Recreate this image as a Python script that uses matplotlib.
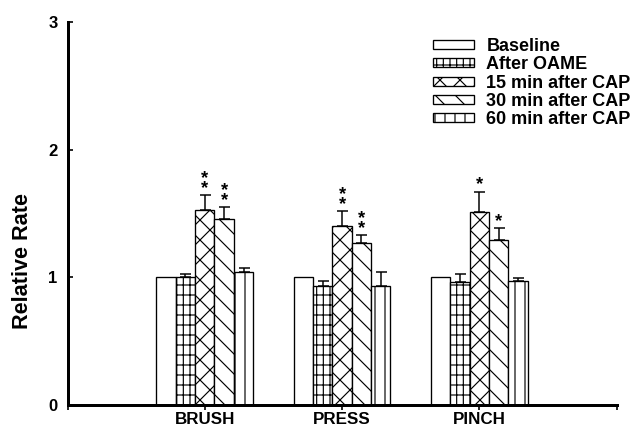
import numpy as np
import matplotlib
matplotlib.use("Agg")
import matplotlib.pyplot as plt

plt.rcParams['font.family'] = ['Liberation Sans', 'DejaVu Sans']
plt.rcParams['font.weight'] = 'bold'
plt.rcParams['hatch.linewidth'] = 0.7

categories = ['BRUSH', 'PRESS', 'PINCH']
series = ['Baseline', 'After OAME', '15 min after CAP', '30 min after CAP', '60 min after CAP']
values = {
    'Baseline':         [1.00, 1.00, 1.00],
    'After OAME':       [1.00, 0.93, 0.96],
    '15 min after CAP': [1.525, 1.40, 1.51],
    '30 min after CAP': [1.46, 1.27, 1.295],
    '60 min after CAP': [1.04, 0.935, 0.975],
}
errors = {
    'Baseline':         [0.0, 0.0, 0.0],
    'After OAME':       [0.025, 0.045, 0.07],
    '15 min after CAP': [0.12, 0.12, 0.16],
    '30 min after CAP': [0.09, 0.06, 0.09],
    '60 min after CAP': [0.03, 0.11, 0.02],
}
stars = {
    '15 min after CAP': ['**', '**', '*'],
    '30 min after CAP': ['**', '**', '*'],
}
hatches = ['', '|||--', 'xx', '\\\\', '||']

fig = plt.figure(figsize=(634/120, 427/120), dpi=120)
ax = fig.add_axes([67.5/634, 22/427, (616.7-67.5)/634, (405-22)/427])

x = np.arange(1, len(categories) + 1)
w = 0.141
for i, s in enumerate(series):
    pos = x + (i - 2) * w
    ax.bar(pos, values[s], width=w, color='white', edgecolor='black',
           linewidth=0.8, hatch=hatches[i], label=s, zorder=2)
    if any(e > 0 for e in errors[s]):
        ax.errorbar(pos, values[s], yerr=[np.zeros(3), errors[s]], fmt='none',
                    ecolor='black', elinewidth=0.9, capsize=3.3, capthick=0.9, zorder=3)
    if s in stars:
        for p, v, e, st in zip(pos, values[s], errors[s], stars[s]):
            top = v + e
            ax.annotate('\n'.join(st), xy=(p, top), xytext=(0, -1.0),
                        textcoords='offset points', ha='center', va='bottom',
                        fontsize=11, fontweight='bold', linespacing=0.45)

ax.set_xlim(0, 4)
ax.set_ylim(0, 3)
ax.set_yticks([0, 1, 2, 3])
ax.set_xticks([0, 1, 2, 3, 4])
ax.set_xticklabels([''] + categories + [''])
ax.tick_params(axis='y', direction='in', length=3, width=1, labelsize=10, pad=6)
ax.tick_params(axis='x', direction='out', length=3, width=1, labelsize=10.2, pad=1)
for sp in ['top', 'right']:
    ax.spines[sp].set_visible(False)
ax.spines['left'].set_linewidth(1.8)
ax.spines['bottom'].set_linewidth(1.8)

ax.set_ylabel('Relative Rate', fontsize=13, fontweight='bold')
ax.yaxis.set_label_coords(-0.063, 0.376)

leg = ax.legend(loc='upper left', bbox_to_anchor=(432.7/634, 1 - 38/427),
                bbox_transform=fig.transFigure, frameon=False, fontsize=10.8,
                handlelength=2.3, handleheight=0.4, handletextpad=0.68,
                labelspacing=0.07, borderpad=0, borderaxespad=0)

fig.savefig('out.png', dpi=120)
